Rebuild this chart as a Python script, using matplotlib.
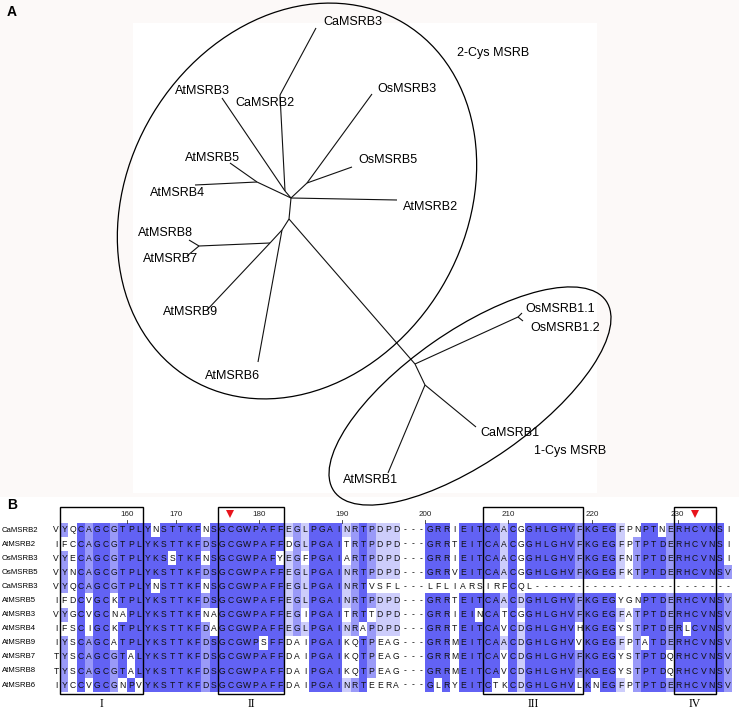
import matplotlib
matplotlib.use('Agg')
import matplotlib.pyplot as plt
from matplotlib.patches import Ellipse, Rectangle
from collections import Counter

W, H = 739, 712
fig = plt.figure(figsize=(W / 100, H / 100), dpi=100)
ax = fig.add_axes([0, 0, 1, 1])
ax.set_xlim(0, W)
ax.set_ylim(H, 0)
ax.axis('off')
fig.patch.set_facecolor('white')

SANS = ['Liberation Sans', 'DejaVu Sans']
SERIF = ['Liberation Serif', 'DejaVu Serif']

# ---------------- Panel A: unrooted tree ----------------
node_names = ['C0', 'Nt', 'J1', 'J2', 'J3', 'C1', 'C2', 'J4', 'J5', 'N2', 'F', 'N3',
              'CaMSRB3', 'AtMSRB3', 'AtMSRB5', 'AtMSRB4', 'OsMSRB3', 'OsMSRB5', 'AtMSRB2',
              'AtMSRB9', 'AtMSRB8', 'AtMSRB7', 'AtMSRB6', 'OsMSRB1.1', 'OsMSRB1.2',
              'CaMSRB1', 'AtMSRB1']
node_x = [291, 285, 280, 257, 307, 289, 282, 270, 199, 415, 518, 425,
          316, 222, 230, 195, 372, 352, 397,
          207, 189, 187, 258, 522, 523, 476, 388]
node_y = [198, 191, 95, 182, 183, 219, 230, 243, 246, 364, 317, 385,
          28, 98, 163, 185, 94, 167, 200,
          310, 240, 256, 362, 313, 321, 427, 473]
edges = [('C0', 'Nt'), ('Nt', 'J1'), ('J1', 'CaMSRB3'), ('Nt', 'AtMSRB3'),
         ('C0', 'J2'), ('J2', 'AtMSRB5'), ('J2', 'AtMSRB4'),
         ('C0', 'J3'), ('J3', 'OsMSRB3'), ('J3', 'OsMSRB5'), ('C0', 'AtMSRB2'),
         ('C0', 'C1'), ('C1', 'C2'), ('C2', 'J4'), ('J4', 'AtMSRB9'), ('J4', 'J5'),
         ('J5', 'AtMSRB8'), ('J5', 'AtMSRB7'), ('C2', 'AtMSRB6'),
         ('C1', 'N2'), ('N2', 'F'), ('F', 'OsMSRB1.1'), ('F', 'OsMSRB1.2'),
         ('N2', 'N3'), ('N3', 'CaMSRB1'), ('N3', 'AtMSRB1')]

tree_labels = ['CaMSRB3', 'AtMSRB3', 'CaMSRB2', 'OsMSRB3', 'OsMSRB5', 'AtMSRB5', 'AtMSRB4',
               'AtMSRB2', 'AtMSRB8', 'AtMSRB7', 'AtMSRB9', 'AtMSRB6', 'OsMSRB1.1',
               'OsMSRB1.2', 'CaMSRB1', 'AtMSRB1', '2-Cys MSRB', '1-Cys MSRB']
label_x = [323, 175, 235, 377, 358, 185, 150, 403, 138, 143, 163, 205, 525, 530, 480, 343, 457, 534]
label_y = [22, 91, 103, 89, 160, 158, 193, 207, 233, 259, 312, 376, 309, 328, 433, 480, 53, 451]

# background: off-white panel with white plotting area
ax.add_patch(Rectangle((0, 0), W, 497, facecolor='#fcf9f8', edgecolor='none', zorder=0))
ax.add_patch(Rectangle((133, 23), 464, 470, facecolor='white', edgecolor='none', zorder=0))

pos = dict(zip(node_names, zip(node_x, node_y)))
for a, b in edges:
    (x1, y1), (x2, y2) = pos[a], pos[b]
    ax.plot([x1, x2], [y1, y2], color='#111111', lw=0.8, solid_capstyle='butt', zorder=2)

for t, x, y in zip(tree_labels, label_x, label_y):
    ax.text(x, y, t, fontsize=9, family=SANS, ha='left', va='center', zorder=3)

ax.add_patch(Ellipse((297, 201), 337, 415, angle=31, fill=False, edgecolor='black', lw=0.9, zorder=2))
ax.add_patch(Ellipse((470, 396), 332, 130, angle=-35, fill=False, edgecolor='black', lw=0.9, zorder=2))

ax.text(12, 12, 'A', fontsize=10, fontweight='bold', family=SANS, ha='center', va='center')

# ---------------- Panel B: alignment ----------------
seq_names = ['CaMSRB2', 'AtMSRB2', 'OsMSRB3', 'OsMSRB5', 'CaMSRB3', 'AtMSRB5', 'AtMSRB3',
             'AtMSRB4', 'AtMSRB9', 'AtMSRB7', 'AtMSRB8', 'AtMSRB6']
sequences = [
    'VYQCAGCGTPLYNSTTKFNSGCGWPAFFEGLPGAINRTPDPD---GRRIEITCAACGGHLGHVFKGEGFPNPTNERHCVNSI',
    'IFCCAGCGTPLYKSTTKFDSGCGWPAFFDGLPGAITRTPDPD---GRRTEITCAACGGHLGHVFKGEGFPTPTDERHCVNSI',
    'VYECAGCGTPLYKSSTKFNSGCGWPAFYEGFPGAIARTPDPD---GRRIEITCAACGGHLGHVFKGEGFNTPTDERHCVNSI',
    'VYNCAGCGTPLYKSTTKFDSGCGWPAFFEGLPGAINRTPDPD---GRRVEITCAACGGHLGHVFKGEGFKTPTDERHCVNSV',
    'VYQCAGCGTPLYNSTTKFNSGCGWPAFFEGLPGAINRTVSFL---LFLIARSIRFCQL------------------------',
    'IFDCVGCKTPLYKSTTKFDSGCGWPAFFEGLPGAINRTPDPD---GRRTEITCAACDGHLGHVFKGEGYGNPTDERHCVNSV',
    'VYGCVGCNAPLYKSTTKFNAGCGWPAFFEGIPGAITRTTDPD---GRRIEINCATCGGHLGHVFKGEGFATPTDERHCVNSV',
    'IFSCIGCKTPLYKSTTKFDAGCGWPAFFEGLPGAINRAPDPD---GRRTEITCAVCDGHLGHVHKGEGYSTPTDERLCVNSV',
    'IYSCAGCATPLYKSTTKFDSGCGWPSFFDAIPGAIKQTPEAG---GRRMEITCAACDGHLGHVVKGEGFPTATDERHCVNSV',
    'TYSCAGCGTALYKSTTKFDSGCGWPAFFDAIPGAIKQTPEAG---GRRMEITCAVCDGHLGHVFKGEGYSTPTDQRHCVNSV',
    'TYSCAGCGTALYKSTTKFDSGCGWPAFFDAIPGAIKQTPEAG---GRRMEITCAVCDGHLGHVFKGEGYSTPTDQRHCVNSV',
    'IYCCVGCGNPVYKSTTKFDSGCGWPAFFDAIPGAINRTEERA---GLRYEITCTKCDGHLGHVLKNEGFPTPTDERHCVNSV',
]
ruler_values = [160, 170, 180, 190, 200, 210, 220, 230]
ruler_columns = [8.6, 14.5, 24.5, 34.5, 44.5, 54.5, 64.6, 74.9]
motif_first = [1, 20, 52, 75]
motif_last = [10, 27, 63, 79]
motif_names = ['I', 'II', 'III', 'IV']
active_cys_cols = [21, 77]

X0, DX = 56.0, 8.3
Y0, DY = 530.0, 14.1
PID_COLORS = ['#6262f4', '#9a9af8', '#cdcdfb']


def colx(c):
    return X0 + c * DX


def rowy(r):
    return Y0 + r * DY


nseq = len(sequences)
ncol = len(sequences[0])
for c in range(ncol):
    column = [s[c] for s in sequences]
    cnt = Counter(ch for ch in column if ch != '-')
    if not cnt:
        modal, pct = set(), 0
    else:
        m = max(cnt.values())
        modal = {k for k, v in cnt.items() if v == m}
        pct = 100.0 * m / nseq
        if len(modal) > 1:
            modal = set()
    for r, ch in enumerate(column):
        col = None
        if ch in modal:
            if pct > 80:
                col = PID_COLORS[0]
            elif pct > 60:
                col = PID_COLORS[1]
            elif pct > 40:
                col = PID_COLORS[2]
        if col:
            ax.add_patch(Rectangle((colx(c) - DX / 2, rowy(r) - DY / 2), DX, DY,
                                   facecolor=col, edgecolor='none', zorder=1))
        ax.text(colx(c), rowy(r), ch, fontsize=6.2, family=SANS, ha='center', va='center',
                color='#111111', zorder=3)

for r, nm in enumerate(seq_names):
    ax.text(2, rowy(r), nm, fontsize=5.6, family=SANS, ha='left', va='center', zorder=3)

for v, c in zip(ruler_values, ruler_columns):
    x = colx(c)
    ax.text(x, 514, str(v), fontsize=5.8, family=SANS, ha='center', va='center', color='#222222')
    ax.plot([x, x], [519.5, 522.5], color='#333333', lw=0.6)

for c in active_cys_cols:
    ax.plot(colx(c), 514, marker='v', color='#e8141c', markersize=6, markeredgewidth=0, zorder=4)

box_top, box_bot = 507, 694
for c1, c2, nm in zip(motif_first, motif_last, motif_names):
    x1 = colx(c1) - DX / 2
    x2 = colx(c2) + DX / 2
    ax.add_patch(Rectangle((x1, box_top), x2 - x1, box_bot - box_top, fill=False,
                           edgecolor='black', lw=1.0, zorder=5))
    ax.text((x1 + x2) / 2, 704, nm, fontsize=8.5, family=SERIF, ha='center', va='center')

ax.text(12, 505, 'B', fontsize=10, fontweight='bold', family=SANS, ha='center', va='center')

fig.savefig('out.png', dpi=100, facecolor=fig.get_facecolor())
